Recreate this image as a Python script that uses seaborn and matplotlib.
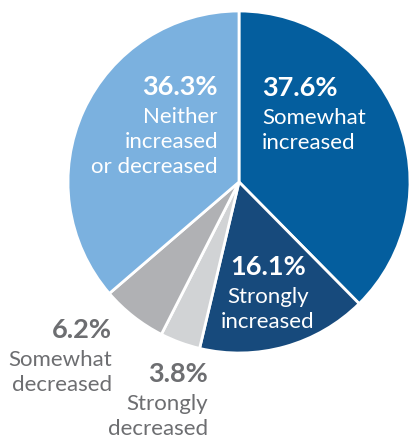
import matplotlib
matplotlib.use("Agg")
import matplotlib.pyplot as plt
import seaborn as sns

# slices, clockwise from 12 o'clock
labels = ["Somewhat\nincreased", "Strongly\nincreased", "Strongly\ndecreased",
          "Somewhat\ndecreased", "Neither\nincreased\nor decreased"]
shares = [37.6, 16.1, 3.8, 6.2, 36.3]
colors = ["#045e9e", "#174a7c", "#d1d3d5", "#b0b1b4", "#7bb1df"]

sns.set_theme(style="white")
plt.rcParams['font.family'] = ['Lato', 'DejaVu Sans']

fig = plt.figure(figsize=(4.10, 4.39), dpi=100)
ax = fig.add_axes([68/410, (439-354)/439, 342/410, 342/439])
ax.pie(shares, colors=colors, startangle=90, counterclock=False, radius=1,
       wedgeprops=dict(edgecolor="white", linewidth=2))
ax.set_xlim(-1, 1)
ax.set_ylim(-1, 1)
ax.set_aspect("equal")
ax.axis("off")

# pixel -> data helper (pie centre at 239,183 px, radius 171 px)
def P(px, py):
    return (px - 239) / 171, (183 - py) / 171

grey = "#6d6e71"
# (anchor px, anchor py of percent line, ha, colour)
spots = [(262, 88, "left", "white"),
         (268, 267, "center", "white"),
         (208, 374, "right", grey),
         (112, 330, "right", grey),
         (218, 87, "right", "white")]

for lab, val, (px, py, ha, c) in zip(labels, shares, spots):
    x, y = P(px, py)
    ax.text(x, y, f"{val:.1f}%", ha=ha, va="center", color=c,
            fontsize=19.5, fontweight="bold")
    for i, line in enumerate(lab.split("\n")):
        x2, y2 = P(px, py + 30 + 25 * i)
        ax.text(x2, y2, line, ha=ha, va="center", color=c, fontsize=16)

fig.savefig("out.png", dpi=100)
